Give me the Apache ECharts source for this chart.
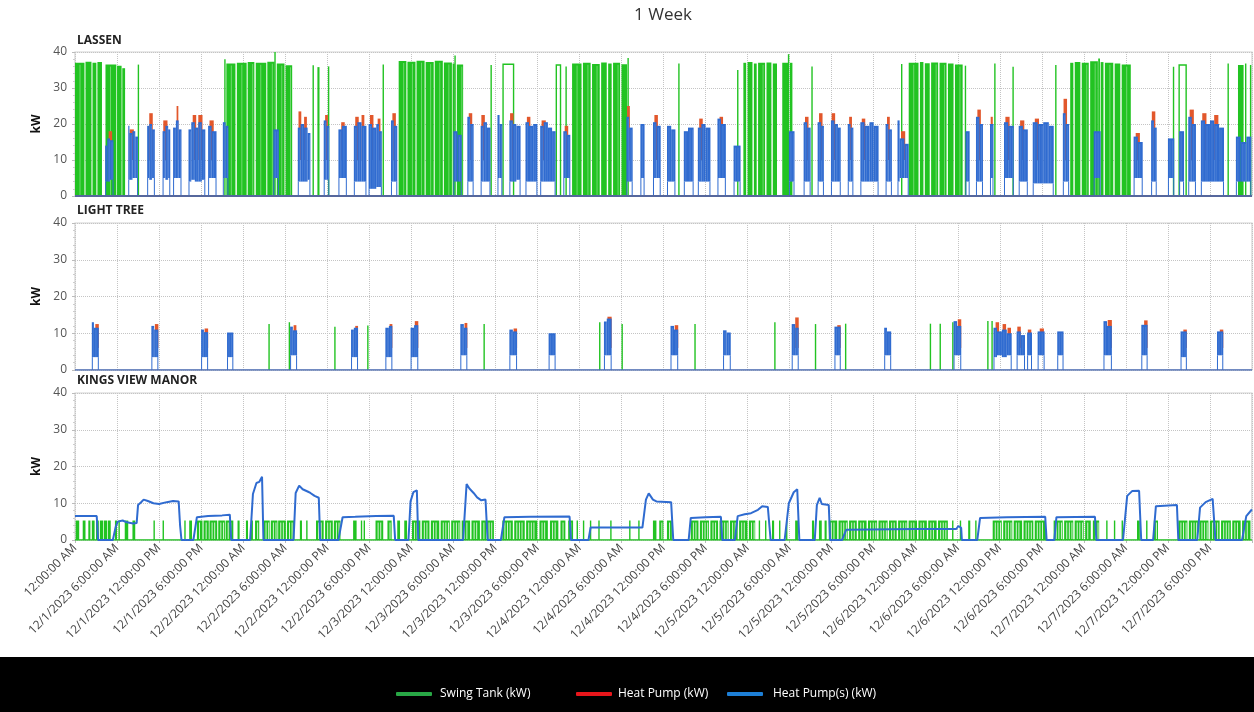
<!DOCTYPE html>
<html>
<head>
<meta charset="utf-8">
<script src="https://cdn.jsdelivr.net/npm/echarts/dist/echarts.min.js"></script>
<style>
html,body{margin:0;padding:0;background:#fff;}
#chart{width:1254px;height:712px;}
</style>
</head>
<body>
<div id="chart"></div>
<script>
// ---------------- DATA (hours since 12/1/2023 12:00 AM, kW) ----------------
const tickLabels = [
  '12:00:00 AM','12/1/2023 6:00:00 AM','12/1/2023 12:00:00 PM','12/1/2023 6:00:00 PM',
  '12/2/2023 12:00:00 AM','12/2/2023 6:00:00 AM','12/2/2023 12:00:00 PM','12/2/2023 6:00:00 PM',
  '12/3/2023 12:00:00 AM','12/3/2023 6:00:00 AM','12/3/2023 12:00:00 PM','12/3/2023 6:00:00 PM',
  '12/4/2023 12:00:00 AM','12/4/2023 6:00:00 AM','12/4/2023 12:00:00 PM','12/4/2023 6:00:00 PM',
  '12/5/2023 12:00:00 AM','12/5/2023 6:00:00 AM','12/5/2023 12:00:00 PM','12/5/2023 6:00:00 PM',
  '12/6/2023 12:00:00 AM','12/6/2023 6:00:00 AM','12/6/2023 12:00:00 PM','12/6/2023 6:00:00 PM',
  '12/7/2023 12:00:00 AM','12/7/2023 6:00:00 AM','12/7/2023 12:00:00 PM','12/7/2023 6:00:00 PM'
];
const panelNames = ['LASSEN', 'LIGHT TREE', 'KINGS VIEW MANOR'];
const seriesNames = ['Swing Tank (kW)', 'Heat Pump (kW)', 'Heat Pump(s) (kW)'];

// Swing tank runs: [startHour, endHour, kW, continuous(1) / dense cycling(0)]
const lassenSwing = [
  [0,1.35,37,0],[1.5,2.35,37.3,0],[2.5,3.05,37,0],[3.2,3.85,37.2,0],[4.35,5.9,36.5,0],[6.0,6.65,36.2,0],[6.75,7.15,35.5,0],
  [9.05,9.05,36.5,0],
  [21.3,21.5,38,0],[21.6,22.9,36.8,0],[23.1,24.5,37,0],[24.65,25.6,37.2,0],[25.8,27.3,37,0],[27.45,28.5,37.3,0],[28.55,28.7,40,0],[28.8,29.9,36.8,0],[30.05,31.0,36.3,0],
  [33.9,34.1,36.3,0],[34.6,34.9,35.8,0],[36.2,36.2,36,0],[44.0,44.0,36.5,0],
  [46.2,47.3,37.5,0],[47.45,48.6,37.3,0],[48.75,49.9,37.6,0],[50.05,51.2,37.2,0],[51.35,52.5,37.6,0],[52.65,53.8,37.1,0],[53.9,54.2,36.8,0],[54.25,54.4,39,0],[54.5,55.4,36.5,0],
  [59.4,59.4,36.4,0],[61.1,62.6,36.6,1],[68.7,69.3,36.4,1],[70.1,70.1,36,0],
  [70.95,72.3,36.8,0],[72.5,73.6,37,0],[73.8,74.9,36.7,0],[75.1,75.9,37.1,0],[76.1,76.6,36.8,0],[76.8,77.8,37,0],[78.0,78.8,36.6,0],[78.85,79.05,38.3,0],
  [86.2,86.2,36.8,0],[94.6,94.6,35,0],
  [95.4,95.8,37,0],[96.0,96.7,37.2,0],[96.9,97.3,36.8,0],[97.5,98.5,37,0],[98.7,99.4,37.1,0],[99.6,100.2,36.8,0],
  [100.95,101.8,37,0],[101.85,102.0,39.4,0],[102.05,102.4,37,0],
  [105.2,105.2,36,0],[118.0,118.0,36.7,0],
  [119.0,120.4,37,0],[120.6,121.1,37.2,0],[121.3,122.0,36.9,0],[122.2,123.2,37.1,0],[123.4,124.4,37,0],[124.6,125.4,36.8,0],[125.6,126.7,36.5,0],
  [127.1,127.1,36.2,0],[131.3,131.3,36.8,0],[133.9,133.9,35.9,0],[140.0,140.0,36.4,0],
  [142.05,142.5,37,0],[142.7,143.5,37.2,0],[143.7,144.7,37,0],[144.9,146.0,37.4,0],[146.05,146.3,38.2,0],[146.4,146.8,37.2,0],[147.0,148.2,37,0],[148.4,149.2,36.8,0],[149.4,150.7,36.5,0],
  [156.8,156.8,35.9,0],[157.6,158.6,36.4,1],[164.6,164.6,36.8,0],[166.0,166.8,36.4,0],[167.1,167.1,36.8,0],[167.8,167.8,36.4,0]
];
// Heat Pump(s) cycling envelope: [startHour, endHour, trough kW, peak kW]
const lassenHeatPumps = [
  [4.3,4.6,4,14],[4.6,5.0,4,16],[5.0,5.5,4.5,15.5],
  [7.6,7.75,4.5,19.5],[7.75,8.2,4.5,17.5],[8.2,8.6,5,18],[8.6,9.0,5,16.5],
  [10.3,10.6,5,19.5],[10.6,11.0,4.5,20],[11.0,11.4,5,18.5],
  [12.5,12.9,5,18],[12.9,13.3,4.5,19.5],[13.3,13.6,5,18.5],
  [14.0,14.4,5,19],[14.4,14.8,5,21],[14.8,15.2,5,18.5],
  [16.2,16.6,4,18.5],[16.6,17.1,4.5,20.5],[17.1,17.6,4,19],[17.6,18.1,4,20.5],[18.1,18.6,4.5,18.5],
  [19.0,19.5,5,19.5],[19.5,20.2,5,18],
  [21.1,21.5,5,20.5],[21.5,21.9,5,19.5],
  [28.3,29.1,5,18.5],
  [31.8,32.2,4,19],[32.2,32.7,4,20],[32.7,33.2,4,19],[33.2,33.6,4.5,17.5],
  [35.5,35.9,4.5,21],[35.9,36.3,4.5,19.5],
  [37.6,38.1,5,18.5],[38.1,38.8,5,19.5],
  [39.8,40.3,4,19.5],[40.3,40.9,4,20.5],[40.9,41.6,4,19.5],
  [41.9,42.4,2,20],[42.4,43.0,2,19],[43.0,43.4,2.5,20],[43.4,43.8,2.5,18],
  [45.1,45.5,4,21],[45.5,46.0,4,19.5],
  [54.0,54.6,4,18],[54.6,55.2,4,17],
  [56.0,56.4,4,22],[56.4,56.9,4,20],
  [57.9,58.3,4,19.5],[58.3,58.8,4,20.5],[58.8,59.3,4,19],
  [60.3,60.6,5,22.5],[60.6,61.0,5,20],
  [62.0,62.5,4,21],[62.5,63.0,4,20],[63.0,63.6,4.5,19.5],
  [64.3,64.8,4,20.5],[64.8,65.4,4,19.5],[65.4,66.0,4,20],
  [66.4,66.9,4,19.5],[66.9,67.5,4,20.5],[67.5,68.1,4,19],[68.1,68.6,4,18],
  [69.7,70.2,5,18],[70.2,70.7,5,17],
  [78.7,79.1,4,22],[79.1,79.6,4,19],
  [80.7,81.3,5,20],
  [82.5,83.0,5,20.5],[83.0,83.6,5,19.5],
  [84.5,85.1,4,19.5],[85.1,85.7,4,18.5],
  [86.9,87.5,4,18],[87.5,88.3,4,19],
  [88.9,89.4,4,19],[89.4,90.0,4,20],[90.0,90.7,4,19],
  [91.7,92.2,5,21.5],[92.2,92.9,5,20],
  [94.0,95.0,4,14],
  [101.9,102.7,4,18],
  [104.0,104.5,4,20.5],[104.5,105.0,4,19],
  [106.0,106.5,4,20.5],[106.5,106.9,4,19.5],
  [107.9,108.4,4,21],[108.4,108.9,4,20],[108.9,109.3,4,19],
  [110.3,110.7,4,20],[110.7,111.1,4,19],
  [112.1,112.7,4,20.5],[112.7,113.4,4,19.5],[113.4,114.0,4,20.5],[114.0,114.7,4,19.5],
  [115.7,116.1,4,20],[116.1,116.6,4,18.5],
  [117.4,117.7,4,21],[117.7,118.4,5,16],[118.4,119.0,5,14.5],
  [127.1,127.7,4,18],
  [128.6,129.1,4,22],[129.1,129.6,4,20],
  [130.6,131.1,5,20],
  [132.6,133.2,5,20.5],[133.2,134.0,5,19.5],
  [134.7,135.3,4,19.5],[135.3,136.0,4,18.5],
  [136.7,137.4,3.5,20.5],[137.4,138.2,3.5,20],[138.2,139.0,3.5,20.5],[139.0,139.7,3.5,19.5],
  [141.0,141.4,4,23],[141.4,141.9,4,20],
  [145.4,146.4,5,18],
  [151.1,151.7,5,16.5],[151.7,152.4,5,15],
  [153.6,154.0,4,21],[154.0,154.4,4,19],
  [156.0,156.9,5,16],
  [157.6,158.3,4,18],
  [158.9,159.4,4,22],[159.4,160.0,4,20],
  [160.7,161.3,4,21],[161.3,162.0,4,20],[162.0,162.6,4,21],[162.6,163.3,4,20],[163.3,164.0,4,19],
  [165.7,166.4,4,16.5],[166.4,167.2,4,15],[167.2,167.9,4,16.5]
];
// Heat Pump peaks showing above the combined trace: [startHour, endHour, kW]
const lassenHeatPump = [
  [4.8,5.3,18],[7.8,8.4,18.5],[10.6,11.1,23],[12.6,13.2,21],[14.5,14.75,25],[16.8,17.3,22.5],[17.6,18.2,22.5],
  [19.2,19.8,21],[31.9,32.3,23.5],[32.7,33.1,22],[35.7,36.1,22.5],[38.0,38.5,20.5],[40.0,40.5,22],[40.9,41.3,22.5],
  [42.1,42.6,22.5],[43.2,43.6,21.5],[45.3,45.8,23],[56.2,56.7,23],[58.0,58.5,22.5],[62.1,62.6,23],[64.5,65.0,22],
  [66.6,67.2,21],[69.9,70.4,19.5],[78.8,79.2,25],[82.7,83.2,22.5],[89.1,89.6,21.5],[92.0,92.5,22],[104.2,104.7,22],
  [106.2,106.7,23],[108.0,108.5,23],[110.5,110.9,22],[112.3,112.8,21.5],[115.9,116.3,22],[117.9,118.5,18],
  [128.8,129.3,24],[130.7,131.0,22],[132.8,133.4,22],[134.9,135.5,21],[137.0,137.6,21.5],[141.1,141.6,27],
  [151.4,152.0,17.5],[153.7,154.2,23.5],[159.1,159.7,24],[160.9,161.5,23],[162.6,163.2,22.5]
];

const lightTreeSwing = [
  [27.7,27.7,12.5,0],[30.6,30.6,13,0],[37.1,37.1,11.8,0],[41.8,41.8,12.1,0],[58.4,58.4,12.5,0],
  [74.9,74.9,13,0],[78.1,78.1,12.5,0],[88.5,88.5,12.5,0],[99.9,99.9,13,0],[105.7,105.7,12.5,0],
  [110.0,110.0,12.6,0],[122.1,122.1,12.6,0],[123.5,123.5,12.6,0],[125.3,125.3,13,0],
  [130.3,130.3,13.3,0],[130.9,130.9,13.3,0]
];
const lightTreeHeatPumps = [
  [2.4,2.7,3.5,13],[2.7,3.4,3.5,11.5],
  [10.9,11.3,3.5,12],[11.3,11.9,3.5,11],
  [18.0,18.4,3.5,11],[18.4,19.0,3.5,10.3],
  [21.7,22.6,3.5,10.2],
  [30.7,31.1,4,11.8],[31.1,31.7,4,10.8],
  [39.4,39.8,3.5,11],[39.8,40.4,3.5,11.5],
  [44.3,44.8,3.5,11.5],[44.8,45.3,3.5,12],
  [47.9,48.4,3.5,11.5],[48.4,49.0,3.5,12.2],
  [55.0,55.5,4,12.5],[55.5,56.0,4,11.5],
  [62.0,62.5,4,11],[62.5,63.1,4,10.5],
  [67.6,68.6,4,10],
  [75.5,75.9,4,13.2],[75.9,76.6,4,14],
  [85.0,85.5,4,12],[85.5,86.1,4,11],
  [92.5,93.0,4,10.8],[93.0,93.6,4,10.2],
  [102.3,102.8,4,12.5],[102.8,103.3,4,11.5],
  [108.4,109.3,4,11.8],
  [115.5,115.9,4,11.5],[115.9,116.5,4,10.5],
  [125.4,125.9,4,13.3],[125.9,126.5,4,12],
  [131.1,131.6,3.5,11.5],[131.6,132.3,4,10.5],[132.3,133.0,3.5,11],[133.0,133.7,4,10],
  [134.4,135.0,4,10.5],[135.0,135.6,4,9.5],[135.9,136.6,4,10.2],
  [137.4,138.4,4,10.5],
  [140.2,141.1,4,10.5],
  [146.8,147.3,4,13.3],[147.3,148.0,4,12],
  [152.2,153.1,4,12.3],
  [157.8,158.7,3.5,10.5],
  [163.0,163.9,4,10.5]
];
const lightTreeHeatPump = [
  [2.9,3.4,12.5],[11.4,11.9,12.5],[18.5,19.0,11.3],[31.2,31.6,12.2],[40.0,40.4,12],[44.9,45.3,12.5],[48.5,49.0,13.3],
  [55.6,56.0,12.8],[62.6,63.1,11.3],[76.0,76.6,14.5],[85.6,86.1,12.2],[102.8,103.3,14.3],[108.8,109.3,12.2],
  [126.0,126.5,13.8],[131.4,131.9,13],[132.4,132.9,12.5],[133.1,133.6,11.5],[134.5,135.0,11.8],[136.0,136.5,11],
  [137.7,138.3,11.3],[147.4,148.0,13.6],[152.6,153.1,13.5],[158.2,158.7,11],[163.4,163.9,11]
];

const kingsSwingKW = 5.3;
const kingsSwing = [
  [0.1,0.6],[1.1,1.5],[1.9,2.2],[2.4,2.8],[3.0,3.4],[3.55,4.0],[4.1,4.6],[4.7,5.1],[5.7,6.0],[6.3,6.3],
  [7.1,7.6],[8.2,8.6],[11.3,11.3],[12.6,12.6],[15.7,15.7],[16.3,16.7],
  [17.4,18.2],[18.35,19.1],[19.2,20.3],[20.45,21.4],[21.5,22.6],[23.2,23.5],[24.4,24.7],[25.1,25.4],[25.7,26.3],
  [26.9,27.8],[27.95,28.9],[29.0,30.1],[30.25,31.3],[32.1,32.4],[33.1,33.1],[34.4,35.5],[35.7,36.8],[36.95,37.9],
  [39.7,40.2],[40.9,40.9],[41.3,41.3],[42.9,44.0],[44.6,45.2],[46.0,46.4],[47.0,47.4],[48.1,49.3],
  [49.5,50.6],[50.8,52.0],[52.2,53.5],[53.7,55.0],[55.2,56.4],[56.6,57.8],[58.0,59.8],
  [61.0,62.5],[62.7,64.2],[64.4,66.0],[66.3,67.5],[67.8,69.0],[69.3,70.0],[70.4,71.1],
  [71.7,71.7],[72.6,72.6],[73.6,73.6],[74.8,74.8],[76.5,76.5],[79.2,79.2],[80.5,80.5],
  [82.5,83.0],[83.4,84.0],[84.5,85.2],
  [87.9,89.0],[89.2,90.5],[90.7,91.8],[92.0,93.3],[93.5,94.6],[94.8,96.0],[96.2,97.1],
  [97.7,97.7],[98.6,98.6],[99.5,99.8],[100.6,100.6],[101.6,101.6],[102.8,103.2],
  [105.2,105.5],[106.2,106.6],[107.0,107.3],
  [107.6,108.8],[109.0,110.3],[110.5,111.6],[111.8,113.0],[113.2,114.5],[114.7,116.0],[116.2,117.3],
  [117.5,118.8],[119.0,120.2],[120.4,121.6],[121.8,123.0],[123.2,124.6],
  [125.3,125.3],[126.4,126.4],[127.5,127.8],[128.6,128.6],
  [131.0,132.3],[132.5,133.8],[134.0,135.2],[135.4,136.8],[137.0,138.6],
  [139.7,141.0],[141.2,142.5],[142.7,144.0],[144.2,145.0],[145.3,146.2],
  [147.3,147.3],[148.4,148.4],[149.5,149.5],[151.6,152.0],[153.0,153.0],[154.0,154.6],
  [157.5,158.8],[159.0,160.3],[160.5,161.8],[162.0,163.4],[163.6,165.0],[165.2,166.4],[166.6,167.8]
];
// Heat Pump(s) trace: [hour, kW]
const kingsHeatPumps = [
  [0,6.5],[3.1,6.5],[3.3,0],[5.4,0],[5.8,3.5],[6.1,5.0],[6.8,5.3],[7.4,4.8],[8.3,4.5],[8.8,4.6],
  [9.0,9.5],[9.4,10.2],[9.8,11.0],[10.4,10.6],[11.2,10.0],[12.0,9.8],[13.1,10.3],[14.0,10.6],[14.8,10.5],[15.0,4],[15.2,0],
  [16.9,0],[17.4,6.2],[19.0,6.5],[21.0,6.7],[22.1,6.9],[22.3,0],
  [25.0,0],[25.4,12.5],[25.9,15.5],[26.3,15.8],[26.7,17.2],[26.9,0],
  [31.2,0],[31.5,12.8],[32.0,14.8],[32.5,13.8],[33.2,13.2],[33.6,12.8],[34.2,12.0],[34.8,11.5],[35.0,0],
  [37.6,0],[38.2,6.2],[40.0,6.3],[43.0,6.5],[45.5,6.6],[45.7,0],
  [47.6,0],[47.9,10.5],[48.3,13],[48.8,13.5],[49.0,0],
  [55.4,0],[55.9,15.2],[56.3,14],[56.9,12.8],[57.4,11.6],[58.0,10.8],[58.6,11.0],[58.9,0],
  [60.8,0],[61.3,6.2],[65,6.3],[70.6,6.4],[70.8,0],
  [73.3,0],[73.6,3.4],[81.0,3.4],[81.5,11],[81.9,12.7],[82.5,11],[83,10.5],[85.1,10.3],[85.4,0],
  [87.6,0],[87.9,6.0],[90,6.2],[92.2,6.3],[92.4,0],
  [94.2,0],[94.6,6.5],[95.6,7.0],[96.5,7.3],[97.5,8.2],[98.1,9.2],[98.9,9.0],[99.3,0],
  [101.3,0],[101.9,10],[102.6,13],[103.1,13.8],[103.4,0],
  [105.6,0],[105.9,9.5],[106.3,11.5],[106.6,9.8],[107.6,9.5],[107.8,0],
  [109.5,0],[110.1,2.8],[120,3.0],[125.8,3.0],[126.1,3.8],[126.5,3.3],[126.6,0],
  [128.8,0],[129.2,6.0],[133,6.2],[138.5,6.3],[138.7,0],
  [139.8,0],[140.1,6.2],[145.6,6.3],[145.8,0],
  [149.6,0],[150.2,12],[150.9,13.3],[151.9,13.4],[152.2,0],
  [153.9,0],[154.3,9.2],[157.3,9.5],[157.5,0],
  [160.2,0],[160.6,8.8],[161.4,10.3],[162.4,11.2],[162.8,0],
  [166.6,0],[167.2,6.5],[168,8.3]
];

// ---------------- STYLE ----------------
const GREEN = '#22c322', RED = '#e2572b', BLUE = '#2f6bd0';
const FONT = 'Open Sans';
const grids = [
  {left:75, right:2, top:52, height:144},
  {left:75, right:2, top:223, height:147},
  {left:75, right:2, top:393, height:147}
];

// hatch: [pitch px, line width px, opacity] of the fine white streaks left by rapid cycling
function swingRender(color, hatch) {
  return function (params, api) {
    const h0 = api.value(0), h1 = api.value(1), kw = api.value(2), cont = api.value(3);
    const top0 = api.coord([h0, kw]), bot1 = api.coord([h1, 0]);
    const x0 = top0[0], x1 = bot1[0], yT = top0[1], yB = bot1[1];
    if (x1 - x0 < 1.2) {
      return {type:'line', shape:{x1:x0, y1:yB, x2:x0, y2:yT}, style:{stroke:color, lineWidth:1.4}};
    }
    if (cont === 1) {
      return {type:'polyline', shape:{points:[[x0,yB],[x0,yT],[x1,yT],[x1,yB]]}, style:{stroke:color, lineWidth:1.4, fill:null}};
    }
    const children = [{type:'rect', shape:{x:x0, y:yT, width:x1 - x0, height:yB - yT}, style:{fill:color}}];
    if (hatch) {
      for (let x = x0 + hatch[0]; x < x1 - 1; x += hatch[0]) {
        children.push({type:'line', shape:{x1:x, y1:yT + 2, x2:x, y2:yB - 1}, style:{stroke:'#fff', lineWidth:hatch[1], opacity:hatch[2]}});
      }
    }
    return {type:'group', children};
  };
}
function burstRender(color, stems, streak) {
  return function (params, api) {
    const h0 = api.value(0), h1 = api.value(1), lo = api.value(2), hi = api.value(3);
    const startEdge = api.value(4), endEdge = api.value(5);
    const a = api.coord([h0, hi]), b = api.coord([h1, lo]), z = api.coord([h0, 0]);
    const w = Math.max(b[0] - a[0], 1.2);
    const children = [{type:'rect', shape:{x:a[0], y:a[1], width:w, height:b[1] - a[1]}, style:{fill:color}}];
    if (streak) {
      for (let x = a[0] + 2; x < a[0] + w - 0.5; x += 2.5) {
        children.push({type:'line', shape:{x1:x, y1:a[1] + 2, x2:x, y2:b[1]}, style:{stroke:'#fff', lineWidth:0.6, opacity:0.22}});
      }
    }
    if (stems) {
      if (startEdge) children.push({type:'line', shape:{x1:a[0] + 0.5, y1:z[1], x2:a[0] + 0.5, y2:b[1]}, style:{stroke:color, lineWidth:1}});
      if (endEdge) children.push({type:'line', shape:{x1:a[0] + w - 0.5, y1:z[1], x2:a[0] + w - 0.5, y2:b[1]}, style:{stroke:color, lineWidth:1}});
    }
    return {type:'group', children};
  };
}
// mark which envelope pieces start / end a burst (so troughs get their drop to 0)
function withEdges(rows) {
  return rows.map((r, i) => {
    const prev = rows[i - 1], next = rows[i + 1];
    const start = !prev || Math.abs(prev[1] - r[0]) > 1e-6 ? 1 : 0;
    const end = !next || Math.abs(next[0] - r[1]) > 1e-6 ? 1 : 0;
    return [r[0], r[1], r[2], r[3], start, end];
  });
}

function xAxisFor(i, labels) {
  return {
    type:'value', gridIndex:i, min:0, max:168, interval:6,
    axisLine:{show:false},
    axisTick:{show:labels, length:3, lineStyle:{color:'#bbb'}},
    splitLine:{show:true, lineStyle:{type:'dotted', color:'#c4c4c4'}},
    axisLabel:{show:labels, rotate:45, fontSize:12, color:'#444', margin:6, fontFamily:FONT,
      formatter:(v) => tickLabels[Math.round(v / 6)] || ''}
  };
}
function yAxisFor(i) {
  return {
    type:'value', gridIndex:i, min:0, max:40, interval:10,
    name:'kW', nameLocation:'middle', nameGap:27,
    nameTextStyle:{fontWeight:'bold', fontSize:12, color:'#111', fontFamily:FONT},
    axisLine:{show:false},
    axisTick:{show:true, length:3, lineStyle:{color:'#bbb'}},
    minorTick:{show:true, splitNumber:5, length:2, lineStyle:{color:'#ccc'}},
    splitLine:{lineStyle:{type:'dotted', color:'#c4c4c4'}},
    axisLabel:{fontSize:12, color:'#555', margin:8, fontFamily:FONT}
  };
}

const series = [];
function baseline(i, color, w, z) {
  series.push({type:'line', xAxisIndex:i, yAxisIndex:i, data:[[0,0],[168,0]], symbol:'none',
    lineStyle:{color, width:w}, z, silent:true, legendHoverLink:false});
}
function swingSeries(i, data, hatch) {
  series.push({name:seriesNames[0], type:'custom', xAxisIndex:i, yAxisIndex:i, data,
    renderItem:swingRender(GREEN, hatch), encode:{x:[0,1], y:[2]}, itemStyle:{color:GREEN}, clip:true, z:3});
}
function pumpSeries(i, peaks, envelope, lowOf) {
  series.push({name:seriesNames[1], type:'custom', xAxisIndex:i, yAxisIndex:i,
    data:peaks.map(p => [p[0], p[1], lowOf, p[2], 0, 0]),
    renderItem:burstRender(RED, false, false), encode:{x:[0,1], y:[2,3]}, itemStyle:{color:RED}, clip:true, z:4});
  series.push({name:seriesNames[2], type:'custom', xAxisIndex:i, yAxisIndex:i,
    data:withEdges(envelope),
    renderItem:burstRender(BLUE, true, true), encode:{x:[0,1], y:[2,3]}, itemStyle:{color:BLUE}, clip:true, z:5});
}

// LASSEN
swingSeries(0, lassenSwing, [5, 0.7, 0.5]);
pumpSeries(0, lassenHeatPump, lassenHeatPumps, 10);
baseline(0, '#56679c', 2, 6);
// LIGHT TREE
swingSeries(1, lightTreeSwing, null);
pumpSeries(1, lightTreeHeatPump, lightTreeHeatPumps, 6);
baseline(1, '#4a6bb5', 1.6, 6);
// KINGS VIEW MANOR
baseline(2, GREEN, 1.6, 2);
swingSeries(2, kingsSwing.map(r => [r[0], r[1], kingsSwingKW, 0]), [2.6, 0.9, 0.9]);
series.push({name:seriesNames[2], type:'line', xAxisIndex:2, yAxisIndex:2, data:kingsHeatPumps, symbol:'none',
  lineStyle:{color:BLUE, width:2}, itemStyle:{color:BLUE}, z:5, clip:true});

function legendAt(left, name, color, gap) {
  return {left, top:688, data:[{name, itemStyle:{color}}], icon:'roundRect', itemWidth:36, itemHeight:4,
    selectedMode:false, padding:0, z:20,
    textStyle:{color:'#fff', fontSize:12, fontFamily:FONT, padding:[0,0,0,gap]}};
}

const chart = echarts.init(document.getElementById('chart'), null, {renderer:'canvas'});
chart.setOption({
  animation:false,
  backgroundColor:'#fff',
  textStyle:{fontFamily:FONT},
  grid:grids.map(g => Object.assign({show:true, borderColor:'#d2d2d2', borderWidth:1.2, backgroundColor:'transparent'}, g)),
  xAxis:[xAxisFor(0, false), xAxisFor(1, false), xAxisFor(2, true)],
  yAxis:[yAxisFor(0), yAxisFor(1), yAxisFor(2)],
  legend:[
    legendAt(396, seriesNames[0], '#28a745', 3),
    legendAt(576, seriesNames[1], '#e8161b', 1),
    legendAt(727, seriesNames[2], '#1d7fd6', 5)
  ],
  graphic:[
    {type:'rect', left:0, top:657, shape:{width:1254, height:55}, style:{fill:'#000'}, z:1},
    {type:'text', x:663, y:15, style:{text:'1 Week', fontSize:17, fill:'#333', fontFamily:FONT, textAlign:'center', textVerticalAlign:'middle'}},
    {type:'text', x:77, y:41, style:{text:panelNames[0], fontSize:12, fontWeight:'bold', fill:'#222', fontFamily:FONT, textVerticalAlign:'middle'}},
    {type:'text', x:77, y:211, style:{text:panelNames[1], fontSize:12, fontWeight:'bold', fill:'#222', fontFamily:FONT, textVerticalAlign:'middle'}},
    {type:'text', x:77, y:381, style:{text:panelNames[2], fontSize:12, fontWeight:'bold', fill:'#222', fontFamily:FONT, textVerticalAlign:'middle'}}
  ],
  series
});
</script>
</body>
</html>
